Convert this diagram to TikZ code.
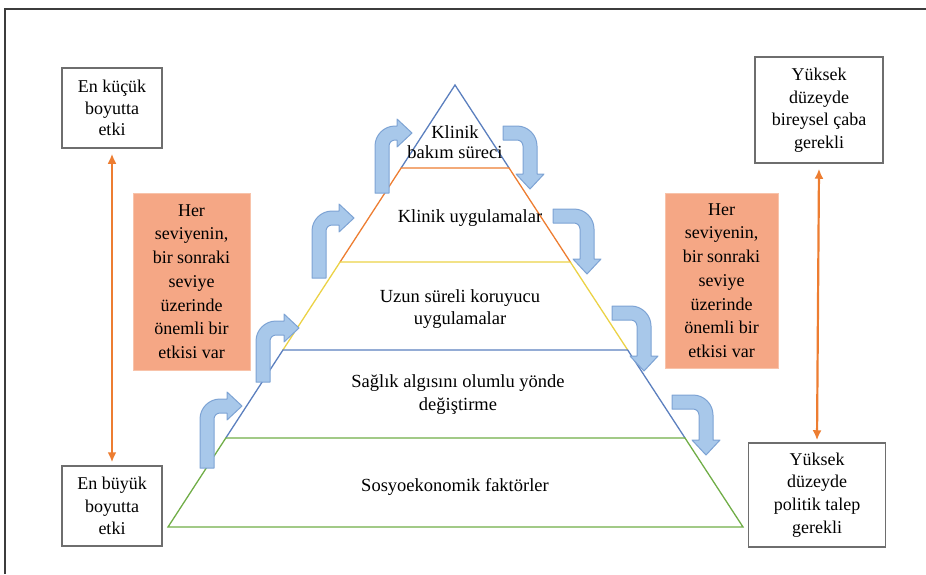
\documentclass[tikz,border=0pt]{standalone}
\usepackage{fontspec}
\setmainfont{Liberation Serif}
\usetikzlibrary{calc,arrows.meta}
\definecolor{pblue}{RGB}{91,127,190}
\definecolor{porange}{RGB}{237,125,49}
\definecolor{pyellow}{RGB}{235,210,70}
\definecolor{pgreen}{RGB}{112,173,71}
\definecolor{afill}{RGB}{168,200,234}
\definecolor{aline}{RGB}{125,163,212}
\definecolor{salmon}{RGB}{245,167,133}
\definecolor{salmonline}{RGB}{248,195,170}
\definecolor{boxline}{RGB}{110,110,110}
\definecolor{frameline}{RGB}{60,60,60}
\newcommand\bentarrow[5]{%
  \begin{scope}[shift={(#1,#2)},rotate=#3]
    \draw[barrow] (0,0) -- (0,{-#4+20})
      .. controls (0,{-#4+9}) and (9,-#4) .. (20,-#4)
      -- (#5,-#4) -- (#5,{-#4-7}) -- ({#5+15},{-#4+7})
      -- (#5,{-#4+21}) -- (#5,{-#4+14}) -- (20,{-#4+14})
      .. controls (16.7,{-#4+14}) and (14,{-#4+16.7}) .. (14,{-#4+20})
      -- (14,0) -- cycle;
  \end{scope}}
\begin{document}
\begin{tikzpicture}[x=1pt,y=-1pt,
  barrow/.style={draw=aline,fill=afill,line width=1pt,line join=round},
  pyr/.style={line width=1.3pt},
  ptext/.style={inner sep=0pt,align=center,font=\fontsize{18.5}{#1}\selectfont},
  wbox/.style={draw=boxline,line width=1.5pt,fill=white,inner sep=0pt,align=center},
  obox/.style={draw=salmonline,line width=1pt,fill=salmon,inner sep=0pt,align=center,
    font=\fontsize{18}{23.7}\selectfont},
  oarrow/.style={draw=porange,line width=2.2pt,{Latex[length=10pt,width=9pt]}-{Latex[length=10pt,width=9pt]}}]
\useasboundingbox (0,0) rectangle (926,574);
% outer frame
\draw[frameline,line width=1.5pt] (5,574) -- (5,9) -- (926,9);
% pyramid
\coordinate (A) at (455,85);
\coordinate (BL) at (168,527);
\coordinate (BR) at (743,527);
\coordinate (L1) at ($(A)!0.1878!(BL)$);
\coordinate (R1) at ($(A)!0.1878!(BR)$);
\coordinate (L2) at ($(A)!0.4005!(BL)$);
\coordinate (R2) at ($(A)!0.4005!(BR)$);
\coordinate (L3) at ($(A)!0.5995!(BL)$);
\coordinate (R3) at ($(A)!0.5995!(BR)$);
\coordinate (L4) at ($(A)!0.7986!(BL)$);
\coordinate (R4) at ($(A)!0.7986!(BR)$);
\draw[pyr,pblue] (L1) -- (A) -- (R1);
\draw[pyr,porange] (L2) -- (L1) -- (R1) -- (R2);
\draw[pyr,pyellow] (L3) -- (L2) -- (R2) -- (R3);
\draw[pyr,pblue] (L4) -- (L3) -- (R3) -- (R4);
\draw[pyr,pgreen] (L4) -- (R4) -- (BR) -- (BL) -- cycle;
% pyramid texts
\node[ptext=19.5] (t1) at (455,142) {Klinik\\bakım süreci};
\node[ptext=22] (t2) at (470,218) {Klinik uygulamalar};
\node[ptext=21.5] (t3) at (460,309) {Uzun süreli koruyucu\\uygulamalar};
\node[ptext=23] (t4) at (458,395) {Sağlık algısını olumlu yönde\\değiştirme};
\node[ptext=22] (t5) at (455,487) {Sosyoekonomik faktörler};
% bent arrows left
\bentarrow{200}{468}{0}{69}{27}
\bentarrow{256}{382}{0}{61}{28}
\bentarrow{312}{278}{0}{67}{27}
\bentarrow{375}{193}{0}{67}{22}
% bent arrows right
\bentarrow{503}{126}{-90}{34}{48}
\bentarrow{553}{209}{-90}{41}{50}
\bentarrow{612}{306}{-90}{39}{50}
\bentarrow{672}{395}{-90}{41}{45}
% side boxes
\node[wbox,minimum width=100pt,minimum height=80pt,font=\fontsize{18}{21.5}\selectfont] (lt) at (112,108) {En küçük\\boyutta\\etki};
\node[wbox,minimum width=100pt,minimum height=80pt,font=\fontsize{18}{22.5}\selectfont] (lb) at (112,506) {En büyük\\boyutta\\etki};
\node[wbox,minimum width=128pt,minimum height=106pt,font=\fontsize{18}{22.5}\selectfont] (rt) at (819,110) {Yüksek\\düzeyde\\bireysel çaba\\gerekli};
\node[wbox,minimum width=137pt,minimum height=104pt,font=\fontsize{18}{22.7}\selectfont] (rb) at (817,495) {Yüksek\\düzeyde\\politik talep\\gerekli};
\node[obox,minimum width=117pt,minimum height=177pt] (lo) at (191.5,281.5) {Her\\seviyenin,\\bir sonraki\\seviye\\üzerinde\\önemli bir\\etkisi var};
\node[obox,minimum width=113pt,minimum height=175pt] (ro) at (721.5,280.5) {Her\\seviyenin,\\bir sonraki\\seviye\\üzerinde\\önemli bir\\etkisi var};
% orange double arrows
\draw[oarrow] ([yshift=-5pt]lt.south) -- ([yshift=3pt]lb.north);
\draw[oarrow] ([yshift=-5pt]rt.south) -- ([yshift=2pt]rb.north);
\end{tikzpicture}
\end{document}
